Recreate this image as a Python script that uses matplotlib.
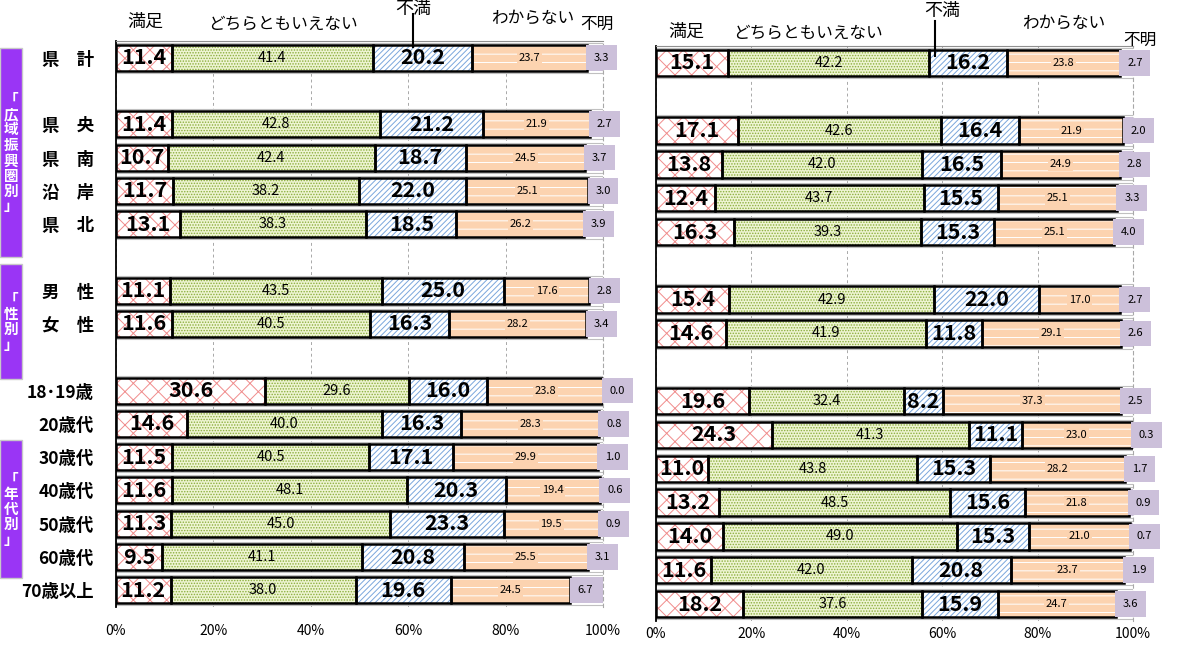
import matplotlib
matplotlib.use('Agg')
import matplotlib.pyplot as plt
from matplotlib.patches import Rectangle
from matplotlib.lines import Line2D

plt.rcParams['font.family'] = ['Noto Sans CJK JP', 'DejaVu Sans']
plt.rcParams['hatch.linewidth'] = 0.7

categories = ['満足', 'どちらともいえない', '不満', 'わからない', '不明']
row_labels = ['県　計', '県　央', '県　南', '沿　岸', '県　北', '男　性', '女　性',
              '18･19歳', '20歳代', '30歳代', '40歳代', '50歳代', '60歳代', '70歳以上']
group_sizes = [1, 4, 2, 7]
group_titles = ['「\n広\n域\n振\n興\n圏\n別\n」', '「\n性\n別\n」', '「\n年\n代\n別\n」']

manzoku_L = [11.4, 11.4, 10.7, 11.7, 13.1, 11.1, 11.6, 30.6, 14.6, 11.5, 11.6, 11.3, 9.5, 11.2]
dochira_L = [41.4, 42.8, 42.4, 38.2, 38.3, 43.5, 40.5, 29.6, 40.0, 40.5, 48.1, 45.0, 41.1, 38.0]
fuman_L = [20.2, 21.2, 18.7, 22.0, 18.5, 25.0, 16.3, 16.0, 16.3, 17.1, 20.3, 23.3, 20.8, 19.6]
wakaranai_L = [23.7, 21.9, 24.5, 25.1, 26.2, 17.6, 28.2, 23.8, 28.3, 29.9, 19.4, 19.5, 25.5, 24.5]
fumei_L = [3.3, 2.7, 3.7, 3.0, 3.9, 2.8, 3.4, 0.0, 0.8, 1.0, 0.6, 0.9, 3.1, 6.7]

manzoku_R = [15.1, 17.1, 13.8, 12.4, 16.3, 15.4, 14.6, 19.6, 24.3, 11.0, 13.2, 14.0, 11.6, 18.2]
dochira_R = [42.2, 42.6, 42.0, 43.7, 39.3, 42.9, 41.9, 32.4, 41.3, 43.8, 48.5, 49.0, 42.0, 37.6]
fuman_R = [16.2, 16.4, 16.5, 15.5, 15.3, 22.0, 11.8, 8.2, 11.1, 15.3, 15.6, 15.3, 20.8, 15.9]
wakaranai_R = [23.8, 21.9, 24.9, 25.1, 25.1, 17.0, 29.1, 37.3, 23.0, 28.2, 21.8, 21.0, 23.7, 24.7]
fumei_R = [2.7, 2.0, 2.8, 3.3, 4.0, 2.7, 2.6, 2.5, 0.3, 1.7, 0.9, 0.7, 1.9, 3.6]

xticks = [0, 20, 40, 60, 80, 100]

# style per category: face, hatch, hatch colour, text size, bold
styles = [
    ('white', 'xx', '#f08c8c', 15.5, 'bold'),
    ('#eef4d2', '......', '#8aae3c', 10.5, 'normal'),
    ('white', '//////', '#7aa6dc', 15.5, 'bold'),
    ('#fcd3b0', '--', 'white', 8, 'normal'),
    ('#ccc0da', None, None, 8, 'normal'),
]

W, H = 1182, 648
fig = plt.figure(figsize=(W / 100, H / 100), dpi=100)


def fx(x):
    return x / W


def fy(y):
    return 1 - y / H


# row positions with a blank slot between groups
positions = []
p = 0
for g in group_sizes:
    for i in range(g):
        positions.append(p)
        p += 1
    p += 1
nslots = p - 1


def draw_panel(ax, series, show_labels, xpad):
    ax.set_xlim(0, 100)
    ax.set_ylim(nslots - 0.5, -0.5)
    ax.barh(positions, [100] * len(positions), height=0.9, fill=False,
            edgecolor='#c0c0c0', linewidth=0.8, zorder=1)
    lefts = [0.0] * len(positions)
    for k, vals in enumerate(series):
        face, hatch, hcol, fs, fw = styles[k]
        if hatch:
            ax.barh(positions, vals, left=lefts, height=0.78, color=face,
                    hatch=hatch, edgecolor=hcol, linewidth=0, zorder=2)
            ax.barh(positions, vals, left=lefts, height=0.78, fill=False,
                    edgecolor='black', linewidth=1.8, zorder=3)
        else:
            ax.barh(positions, vals, left=lefts, height=0.78, color=face,
                    linewidth=0, zorder=2)
        for i, v in enumerate(vals):
            if k < 3:
                ax.text(lefts[i] + v / 2, positions[i], f'{v:.1f}', ha='center',
                        va='center', fontsize=fs, fontweight=fw, zorder=5)
            elif k == 3:
                ax.text(lefts[i] + v / 2, positions[i], f'{v:.1f}', ha='center',
                        va='center', fontsize=fs, zorder=5,
                        bbox=dict(boxstyle='square,pad=0.15', fc=face, ec='none'))
            else:
                ax.annotate(f'{v:.1f}', (lefts[i], positions[i]), xytext=(5, 0),
                            textcoords='offset points', ha='left', va='center',
                            fontsize=fs, zorder=5, annotation_clip=False,
                            bbox=dict(boxstyle='square,pad=0.7', fc=face, ec='none'))
        lefts = [a + b for a, b in zip(lefts, vals)]

    ax.set_xticks(xticks)
    ax.set_xticklabels([f'{t}%' for t in xticks], fontsize=10)
    ax.tick_params(axis='x', length=0, pad=xpad)
    ax.xaxis.grid(True, linestyle=(0, (3, 3)), color='#a8a8a8', linewidth=0.7)
    ax.set_axisbelow(True)
    if show_labels:
        ax.set_yticks(positions)
        ax.set_yticklabels(row_labels, fontsize=12.5, fontweight='bold')
        ax.tick_params(axis='y', length=0, pad=16)
    else:
        ax.set_yticks([])
    ax.spines['left'].set_color('black')
    ax.spines['left'].set_linewidth(1.3)
    ax.spines['top'].set_color('#909090')
    ax.spines['right'].set_color('#a8a8a8')
    ax.spines['right'].set_linestyle((0, (3, 3)))
    ax.spines['bottom'].set_visible(False)


axL = fig.add_axes([fx(116), fy(607), fx(487), 566 / H])
axR = fig.add_axes([fx(656), fy(621), fx(477), 575 / H])
draw_panel(axL, [manzoku_L, dochira_L, fuman_L, wakaranai_L, fumei_L], True, 12)
draw_panel(axR, [manzoku_R, dochira_R, fuman_R, wakaranai_R, fumei_R], False, 4)

# header labels
hdr = [
    (145, 22, '満足', 13), (283, 24, 'どちらともいえない', 12), (413, 9, '不満', 13),
    (533, 18, 'わからない', 12), (597, 24, '不明', 12),
    (686, 32, '満足', 13), (808, 33, 'どちらともいえない', 12), (942, 11, '不満', 13),
    (1064, 23, 'わからない', 12), (1140, 40, '不明', 12),
]
for x, y, s, fs in hdr:
    fig.text(fx(x), fy(y), s, ha='center', va='center', fontsize=fs)
fig.add_artist(Line2D([fx(413), fx(413)], [fy(14), fy(47)], color='black', lw=1.5))
fig.add_artist(Line2D([fx(935), fx(935)], [fy(21), fy(56)], color='black', lw=1.5))

# purple group boxes
for (y0, y1), title in zip([(48, 257), (264, 379), (440, 578)], group_titles):
    fig.add_artist(Rectangle((fx(0), fy(y1)), fx(22), (y1 - y0) / H,
                             facecolor='#9a35f5', edgecolor='#c8c8c8', lw=1.0))
    fig.text(fx(11), fy((y0 + y1) / 2), title, ha='center', va='center', color='white',
             fontsize=10.5, fontweight='bold', linespacing=0.95)

fig.savefig('out.png', dpi=100)
